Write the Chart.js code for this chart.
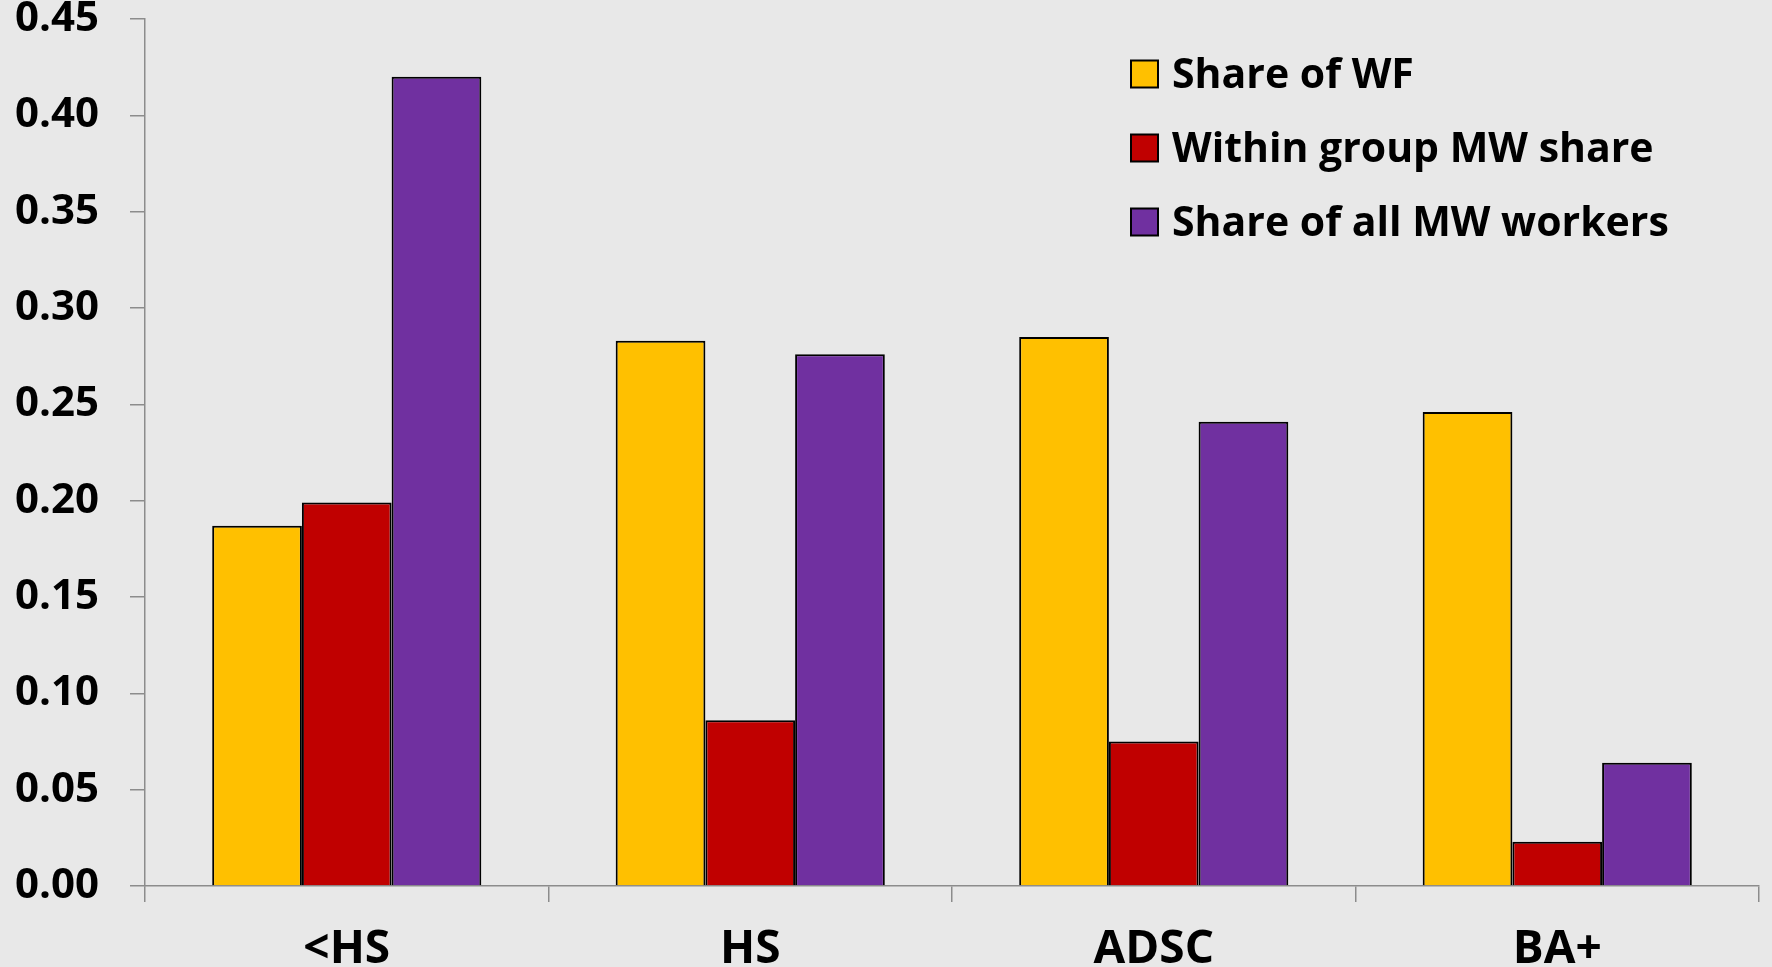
<!DOCTYPE html>
<html>
<head>
<meta charset="utf-8">
<title>Minimum wage workers by education</title>
<script src="https://cdn.jsdelivr.net/npm/chart.js@4.4.1/dist/chart.umd.min.js"></script>
<style>
  html, body { margin: 0; padding: 0; background: #e8e8e8; }
  #wrap { width: 1772px; height: 967px; }
</style>
</head>
<body>
<div id="wrap"><canvas id="chartEdu" width="1772" height="967"></canvas></div>
<script>
const categories = ['<HS', 'HS', 'ADSC', 'BA+'];
const shareOfWF = [0.187, 0.283, 0.285, 0.246];
const withinGroupMW = [0.199, 0.086, 0.075, 0.023];
const shareOfAllMW = [0.420, 0.276, 0.241, 0.064];
const seriesNames = ['Share of WF', 'Within group MW share', 'Share of all MW workers'];
const seriesColors = ['#ffc000', '#c00000', '#7030a0'];

const FONT = '"Open Sans", "DejaVu Sans", sans-serif';
const AXIS_GREY = '#8c8c8c';

// legend drawn on the canvas in the upper right, one row per series
const boxLegend = {
  id: 'boxLegend',
  afterDraw(chart) {
    const ctx = chart.ctx;
    ctx.save();
    ctx.font = 'bold 41px ' + FONT;
    ctx.textBaseline = 'middle';
    ctx.textAlign = 'left';
    chart.data.datasets.forEach((ds, i) => {
      const cy = 74 + i * 74;
      ctx.fillStyle = ds.backgroundColor;
      ctx.fillRect(1131, cy - 13.5, 27, 27);
      ctx.lineWidth = 2;
      ctx.strokeStyle = '#000';
      ctx.strokeRect(1131, cy - 13.5, 27, 27);
      ctx.fillStyle = '#000';
      ctx.fillText(ds.label, 1172, cy + 2);
    });
    ctx.restore();
  }
};

const datasets = [shareOfWF, withinGroupMW, shareOfAllMW].map((vals, i) => ({
  label: seriesNames[i],
  data: vals,
  backgroundColor: seriesColors[i],
  borderColor: '#000',
  borderWidth: 2,
  categoryPercentage: 0.667,
  barPercentage: 1
}));

new Chart(document.getElementById('chartEdu').getContext('2d'), {
  type: 'bar',
  data: { labels: categories, datasets },
  options: {
    responsive: false,
    animation: false,
    layout: { padding: { top: 19, right: 13, left: 0, bottom: 0 } },
    plugins: { legend: { display: false }, tooltip: { enabled: false } },
    scales: {
      x: {
        grid: { offset: true, drawOnChartArea: false, tickLength: 16, color: AXIS_GREY, lineWidth: 1.5 },
        border: { color: AXIS_GREY, width: 1.5 },
        ticks: { color: '#000', padding: 20, font: { family: FONT, size: 46, weight: 'bold' } },
        afterFit(s) { s.height = 81; s.paddingLeft = 0; s.paddingRight = 0; }
      },
      y: {
        min: 0,
        max: 0.45,
        grid: { drawOnChartArea: false, tickLength: 15, color: AXIS_GREY, lineWidth: 1.5 },
        border: { color: AXIS_GREY, width: 1.5 },
        ticks: {
          stepSize: 0.05,
          color: '#000',
          padding: 31,
          font: { family: FONT, size: 42, weight: 'bold' },
          callback: v => v.toFixed(2)
        },
        afterFit(s) { s.width = 145; s.paddingTop = 0; s.paddingBottom = 0; }
      }
    }
  },
  plugins: [boxLegend]
});
</script>
</body>
</html>
